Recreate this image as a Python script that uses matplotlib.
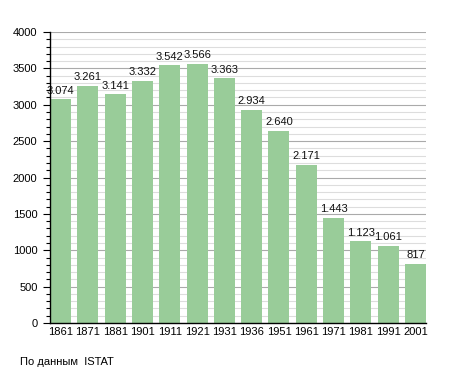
import matplotlib
matplotlib.use("Agg")
import matplotlib.pyplot as plt
from matplotlib.ticker import MultipleLocator

years = ["1861", "1871", "1881", "1901", "1911", "1921", "1931", "1936",
         "1951", "1961", "1971", "1981", "1991", "2001"]
population = [3074, 3261, 3141, 3332, 3542, 3566, 3363, 2934,
              2640, 2171, 1443, 1123, 1061, 817]
labels = ["3.074", "3.261", "3.141", "3.332", "3.542", "3.566", "3.363",
          "2.934", "2.640", "2.171", "1.443", "1.123", "1.061", "817"]

plt.rcParams['font.family'] = ['Liberation Sans', 'DejaVu Sans']

fig = plt.figure(figsize=(4.55, 3.73), dpi=100)
ax = fig.add_axes([0.1099, 0.134, 0.8264, 0.7802])

w = 0.77
x = list(range(len(years)))
ax.bar(x, population, width=w, color='#99cc99', zorder=3)
for xi, v, lab in zip(x, population, labels):
    ax.text(xi, v + 50, lab, ha='center', va='bottom', fontsize=8, color='#111111', zorder=4)

ax.set_xlim(-w / 2, len(years) - 1 + w / 2)
ax.set_ylim(0, 4000)
ax.set_xticks(x)
ax.set_xticklabels(years, fontsize=8)
ax.tick_params(axis='x', length=0, pad=3)
ax.yaxis.set_major_locator(MultipleLocator(500))
ax.yaxis.set_minor_locator(MultipleLocator(100))
ax.tick_params(axis='y', which='major', length=5, width=0.8, labelsize=8, pad=4)
ax.tick_params(axis='y', which='minor', length=3, width=0.8)

ax.grid(axis='y', which='major', color='#aaaaaa', linewidth=0.8, zorder=0)
ax.grid(axis='y', which='minor', color='#dddddd', linewidth=0.8, zorder=0)
ax.set_axisbelow(True)

for s in ['top', 'right']:
    ax.spines[s].set_visible(False)
ax.spines['left'].set_linewidth(1.0)
ax.spines['bottom'].set_linewidth(1.0)
ax.spines['left'].set_zorder(5)
ax.spines['bottom'].set_zorder(5)

fig.text(20 / 455, 1 - 362 / 373, "По данным  ISTAT", fontsize=8, ha='left', va='center')

fig.savefig("out.png", dpi=100)
